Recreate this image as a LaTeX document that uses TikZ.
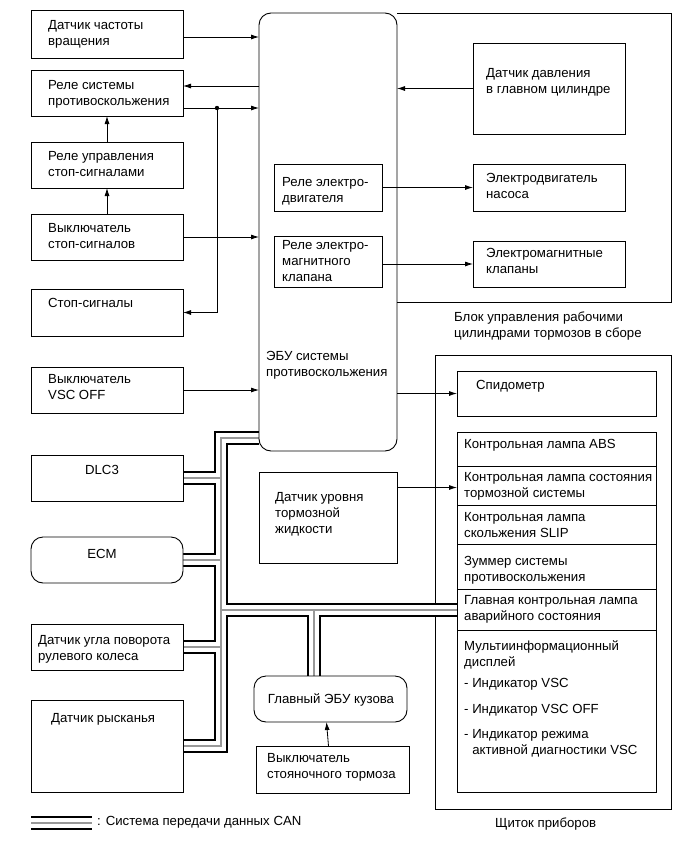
\documentclass[tikz,border=0pt]{standalone}
\usepackage{fontspec}
\setmainfont{Liberation Sans}
\usetikzlibrary{arrows.meta}
\newcommand{\dfont}{\fontsize{13.2}{16}\selectfont}
\pgfdeclarelayer{background}
\pgfsetlayers{background,main}
\begin{document}
\begin{tikzpicture}[x=1pt,y=-1pt,
 box/.style={draw=black,line width=0.9pt,fill=white,inner sep=0pt,outer sep=0pt,anchor=north west},
 rbox/.style={box,rounded corners=12pt},
 txt/.style={anchor=north west,inner sep=0pt,align=left,font=\dfont},
 ctxt/.style={anchor=base,inner sep=0pt,font=\dfont},
 ltxt/.style={anchor=base west,inner sep=0pt,font=\dfont},
 arr/.style={draw=black,line width=0.8pt,-{Latex[length=8pt,width=5pt]}},
 busblack/.style={line width=14pt,draw=black},
 buswhite/.style={line width=10pt,draw=white},
 busgray/.style={line width=1.6pt,draw=black!40},
 plain/.style={draw=black,line width=0.9pt}
]
\useasboundingbox (0,0) rectangle (690,854);

% ---------- left column ----------
\node[box,minimum width=152pt,minimum height=48pt] (b1) at (31,10) {};
\node[box,minimum width=152pt,minimum height=46pt] (b2) at (31,70) {};
\node[box,minimum width=152pt,minimum height=46pt] (b3) at (31,142) {};
\node[box,minimum width=152pt,minimum height=46pt] (b4) at (31,214) {};
\node[box,minimum width=152pt,minimum height=47pt] (b5) at (31,289) {};
\node[box,minimum width=152pt,minimum height=46pt] (b6) at (31,367) {};
\node[box,minimum width=152pt,minimum height=46pt] (dlc) at (31,455) {};
\node[rbox,minimum width=152pt,minimum height=46pt] (ecm) at (31,537) {};
\node[box,minimum width=152pt,minimum height=46pt] (sas) at (31,624) {};
\node[box,minimum width=152pt,minimum height=92pt] (yaw) at (31,700) {};

\node[txt] (t1) at (48,20) {Датчик частоты\\вращения};
\node[txt] (t2) at (48,80) {Реле системы\\противоскольжения};
\node[txt] (t3) at (48,151) {Реле управления\\стоп-сигналами};
\node[txt] (t4) at (48,223) {Выключатель\\стоп-сигналов};
\node[txt] (t5) at (48,298) {Стоп-сигналы};
\node[txt] (t6) at (48,374) {Выключатель\\VSC OFF};
\node[ctxt] (tdlc) at (102,474) {DLC3};
\node[ctxt] (tecm) at (102,558) {ECM};
\node[txt] (tsas) at (38,635) {Датчик угла поворота\\рулевого колеса};
\node[txt] (tyaw) at (51,713) {Датчик рысканья};

% ---------- ECU and brake actuator ----------
\node[rbox,minimum width=138pt,minimum height=438pt] (ecu) at (259,13) {};
\coordinate (blk1) at (671,13);
\coordinate (blk2) at (671,302);
\draw[plain] (ecu.north east) -- (blk1) -- (blk2) -- (ecu.east |- blk2);
\node[box,minimum width=108pt,minimum height=47pt] (rm) at (274,164) {};
\node[box,minimum width=108pt,minimum height=51pt] (rv) at (274,236) {};
\node[box,minimum width=152pt,minimum height=91pt] (pcs) at (473,43) {};
\node[box,minimum width=152pt,minimum height=47pt] (pmp) at (473,164) {};
\node[box,minimum width=152pt,minimum height=46pt] (sol) at (473,241) {};

\node[txt] (tecu) at (266,351) {ЭБУ системы\\противоскольжения};
\node[txt] (trm) at (282,177) {Реле электро-\\двигателя};
\node[txt] (trv) at (282,240) {Реле электро-\\магнитного\\клапана};
\node[txt] (tpcs) at (486,68) {Датчик давления\\в главном цилиндре};
\node[txt] (tpmp) at (486,173) {Электродвигатель\\насоса};
\node[txt] (tsol) at (486,248) {Электромагнитные\\клапаны};
\node[txt] (tblk) at (454,312) {Блок управления рабочими\\цилиндрами тормозов в сборе};

% ---------- fluid level, body ECU ----------
\node[box,minimum width=138pt,minimum height=91pt] (lvl) at (259,472) {};
\node[txt] (tlvl) at (275,492) {Датчик уровня\\тормозной\\жидкости};
\node[rbox,minimum width=153pt,minimum height=46pt] (body) at (254,676) {};
\node[ctxt] (tbody) at (331,703) {Главный ЭБУ кузова};
\node[box,minimum width=153pt,minimum height=47pt] (pkb) at (256,746) {};
\node[txt] (tpkb) at (267,753) {Выключатель\\стояночного тормоза};

% ---------- instrument panel ----------
\begin{pgfonlayer}{background}
\fill[white] (0,0) rectangle (690,854);
\node[box,minimum width=236pt,minimum height=454pt] (panel) at (435,355) {};
\end{pgfonlayer}
\node[ltxt] (tpanel) at (495,827) {Щиток приборов};
\node[box,minimum width=199pt,minimum height=45pt] (spd) at (457,371) {};
\node[box,minimum width=199pt,minimum height=34pt] (r1) at (457,432) {};
\node[box,minimum width=199pt,minimum height=39pt] (r2) at (457,466) {};
\node[box,minimum width=199pt,minimum height=39pt] (r3) at (457,505) {};
\node[box,minimum width=199pt,minimum height=45pt] (r4) at (457,544) {};
\node[box,minimum width=199pt,minimum height=41pt] (r5) at (457,589) {};
\node[box,minimum width=199pt,minimum height=162pt] (r6) at (457,630) {};
\node[txt] (tspd) at (476,380) {Спидометр};
\node[txt] (tr1) at (464,439) {Контрольная лампа ABS};
\node[txt] (tr2) at (464,472) {Контрольная лампа состояния\\тормозной системы};
\node[txt] (tr3) at (464,512) {Контрольная лампа\\скольжения SLIP};
\node[txt] (tr4) at (464,556) {Зуммер системы\\противоскольжения};
\node[txt] (tr5) at (464,595) {Главная контрольная лампа\\аварийного состояния};
\node[txt] (tr6) at (464,640) {Мультиинформационный\\дисплей\\[5pt]- Индикатор VSC\\[10pt]- Индикатор VSC OFF\\[9pt]- Индикатор режима\\\hphantom{- }активной диагностики VSC};

% ---------- CAN bus ----------
\coordinate (jtop) at (221,438);
\coordinate (jbot) at (221,746);
\coordinate (jbus) at (221,610);
\coordinate (jbody) at (314,610);
\coordinate (lg1) at (31,823);
\coordinate (lg2) at (92,823);
\begin{pgfonlayer}{background}
\foreach \st in {busblack,buswhite,busgray}{
  \draw[\st] (ecu.west |- jtop) -- (jtop) -- (jbot) -- (yaw.east |- jbot);
  \draw[\st] (dlc.east) -- (dlc.east -| jtop);
  \draw[\st] (ecm.east) -- (ecm.east -| jtop);
  \draw[\st] (sas.east) -- (sas.east -| jtop);
  \draw[\st] (jbus) -- (r5.west |- jbus);
  \draw[\st] (jbody) -- (body.north -| jbody);
  \draw[\st] (lg1) -- (lg2);
}
\end{pgfonlayer}
\node[ltxt] (tleg) at (97,825) {: Система передачи данных CAN};

% ---------- connectors ----------
\draw[arr] ([yshift=-3pt]b1.east) coordinate (a1) -- (a1 -| ecu.west);
\draw[arr] ([yshift=7pt]b2.east -| ecu.west) -- ([yshift=7pt]b2.east);
\coordinate (dot) at (217,108);
\draw[arr] (b2.east |- dot) -- (dot -| ecu.west);
\fill (dot) circle (2.2pt);
\draw[arr] (dot) |- (b5.east);
\draw[arr] (b3.north) -- (b2.south);
\draw[arr] (b4.north) -- (b3.south);
\draw[arr] (b4.east) -- (b4.east -| ecu.west);
\draw[arr] (b6.east) -- (b6.east -| ecu.west);
\draw[arr] (pcs.west) -- (pcs.west -| ecu.east);
\draw[arr] (rm.east) -- (rm.east -| pmp.west);
\draw[arr] (rv.east |- sol.west) -- (sol.west);
\draw[arr] (ecu.east |- spd.west) -- (spd.west);
\draw[arr] ([yshift=-2pt]lvl.east |- r2.west) coordinate (a2) -- (a2 -| r2.west);
\draw[arr] ([xshift=-4pt]pkb.north) -- ([xshift=-4pt]body.south);
\end{tikzpicture}
\end{document}
